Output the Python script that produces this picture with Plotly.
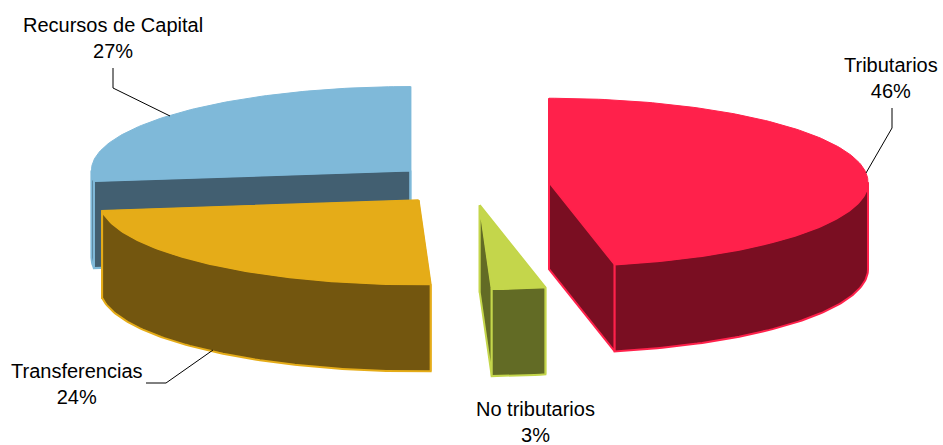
import math
import plotly.graph_objects as go

# Data
categories = ["Tributarios", "No tributarios", "Transferencias", "Recursos de Capital"]
values = [46.7, 2.7, 23.6, 27.0]      # wedge sizes
percent_labels = ["46%", "3%", "24%", "27%"]  # as printed on the chart

# Styles
top_colors = ["#FF214B", "#C4D64B", "#E5AC18", "#7FB9D9"]
wall_colors = ["#7A0E22", "#626B25", "#73560F", "#425F71"]
label_pos = [(891, 78), (535, 422), (77, 384), (113, 38)]
leaders = [
    ([892, 892, 866], [108, 128, 173]),
    ([], []),
    ([146, 166, 213], [383, 383, 350]),
    ([113, 113, 170], [68, 88, 116]),
]

# Projection of the 3D pie
CX, CY, RX, RY, DEPTH, EXPLODE = 470, 184.4, 319, 84, 87, 0.249
draw_order = [3, 2, 1, 0]


def rim(cx, cy, a0, a1, dy=0.0):
    n = max(2, int(abs(a1 - a0) / 1.0) + 1)
    pts = []
    for i in range(n + 1):
        t = math.radians(a0 + (a1 - a0) * i / n)
        pts.append((cx + RX * math.sin(t), cy - RY * math.cos(t) + dy))
    return pts


fig = go.Figure()


def poly(pts, fill, line, width=2.0):
    fig.add_trace(go.Scatter(
        x=[p[0] for p in pts] + [pts[0][0]],
        y=[p[1] for p in pts] + [pts[0][1]],
        mode="lines", fill="toself", fillcolor=fill,
        line=dict(color=line, width=width),
        hoverinfo="skip", showlegend=False,
    ))


total = sum(values)
spans = []
acc = 0.0
for v in values:
    a0 = acc / total * 360
    acc += v
    spans.append((a0, acc / total * 360))

for i in draw_order:
    a0, a1 = spans[i]
    mid = math.radians((a0 + a1) / 2)
    cx = CX + EXPLODE * RX * math.sin(mid)
    cy = CY - EXPLODE * RY * math.cos(mid)
    top, wall = top_colors[i], wall_colors[i]
    rim_pts = rim(cx, cy, a0, a1)
    # radial walls, back to front
    for ang in (a0, a1):
        p = rim(cx, cy, ang, ang)[0]
        poly([(cx, cy), p, (p[0], p[1] + DEPTH), (cx, cy + DEPTH)], wall, top)
    # outer wall (only the front half of the rim is visible)
    f0, f1 = max(a0, 90), min(a1, 270)
    if f1 > f0:
        front = rim(cx, cy, f0, f1)
        poly(front + [(x, y + DEPTH) for x, y in reversed(front)], wall, top)
    # top face
    poly([(cx, cy)] + rim_pts, top, top, 1.0)

for lx, ly in leaders:
    if lx:
        fig.add_trace(go.Scatter(x=lx, y=ly, mode="lines",
                                 line=dict(color="#000000", width=1),
                                 hoverinfo="skip", showlegend=False))

for name, pct, (x, y) in zip(categories, percent_labels, label_pos):
    fig.add_annotation(x=x, y=y, text=f"{name}<br>{pct}", showarrow=False,
                       xanchor="center", yanchor="middle", align="center",
                       font=dict(family="Liberation Sans, Arial, sans-serif",
                                 size=20, color="#000000"))

fig.update_layout(
    width=943, height=445, margin=dict(l=0, r=0, t=0, b=0),
    paper_bgcolor="#FFFFFF", plot_bgcolor="#FFFFFF", showlegend=False,
    xaxis=dict(range=[0, 943], visible=False, fixedrange=True),
    yaxis=dict(range=[445, 0], visible=False, fixedrange=True),
)
fig.write_html("out.html", post_script="document.body.style.margin='0';document.body.style.overflow='hidden';",
               config={"displayModeBar": False})
